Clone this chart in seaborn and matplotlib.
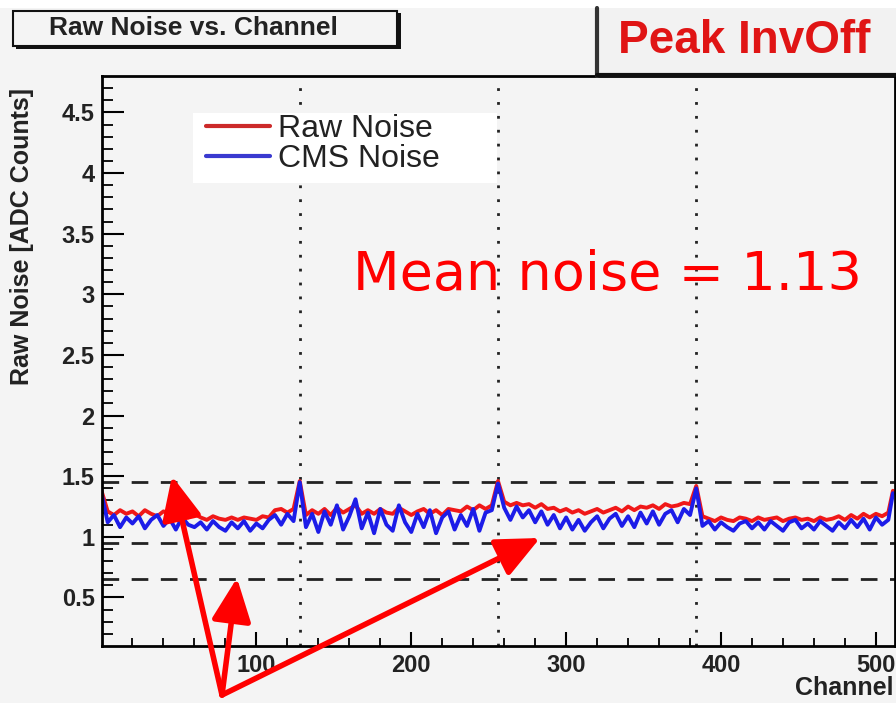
import numpy as np
import pandas as pd
import matplotlib
matplotlib.use("Agg")
import matplotlib.pyplot as plt
import seaborn as sns
from matplotlib.lines import Line2D
from matplotlib.patches import Rectangle

# ---------------- data ----------------
channels = list(range(0, 512, 4)) + [511]

raw_noise = [
    1.38, 1.21, 1.18, 1.22, 1.19, 1.21, 1.17, 1.22, 1.19, 1.17, 1.21, 1.19, 1.17, 1.20, 1.16, 1.19,
    1.16, 1.14, 1.17, 1.15, 1.14, 1.16, 1.14, 1.16, 1.15, 1.14, 1.17, 1.16, 1.22, 1.23, 1.20, 1.23,
    1.46, 1.18, 1.22, 1.19, 1.23, 1.18, 1.24, 1.20, 1.23, 1.26, 1.19, 1.22, 1.19, 1.23, 1.20, 1.19,
    1.24, 1.21, 1.18, 1.21, 1.23, 1.19, 1.22, 1.18, 1.23, 1.22, 1.21, 1.25, 1.22, 1.26, 1.23, 1.26,
    1.46, 1.29, 1.26, 1.28, 1.26, 1.27, 1.24, 1.27, 1.23, 1.24, 1.21, 1.23, 1.20, 1.22, 1.19, 1.21,
    1.23, 1.20, 1.22, 1.24, 1.21, 1.25, 1.22, 1.25, 1.24, 1.26, 1.23, 1.27, 1.25, 1.26, 1.28, 1.27,
    1.42, 1.17, 1.15, 1.13, 1.16, 1.14, 1.13, 1.16, 1.15, 1.13, 1.16, 1.14, 1.15, 1.16, 1.13, 1.15,
    1.16, 1.14, 1.15, 1.13, 1.16, 1.14, 1.15, 1.17, 1.14, 1.18, 1.15, 1.19, 1.16, 1.19, 1.17, 1.20,
    1.38,
]
cms_noise = [
    1.36, 1.12, 1.18, 1.08, 1.16, 1.11, 1.17, 1.07, 1.14, 1.18, 1.09, 1.15, 1.06, 1.16, 1.10, 1.08,
    1.12, 1.06, 1.13, 1.08, 1.05, 1.12, 1.07, 1.13, 1.05, 1.11, 1.07, 1.14, 1.18, 1.10, 1.19, 1.13,
    1.45, 1.08, 1.19, 1.04, 1.21, 1.10, 1.26, 1.06, 1.17, 1.31, 1.07, 1.20, 1.03, 1.23, 1.10, 1.05,
    1.26, 1.12, 1.04, 1.19, 1.08, 1.22, 1.03, 1.16, 1.21, 1.06, 1.18, 1.09, 1.23, 1.05, 1.20, 1.22,
    1.44, 1.24, 1.14, 1.25, 1.16, 1.22, 1.12, 1.21, 1.10, 1.18, 1.07, 1.16, 1.06, 1.14, 1.05, 1.12,
    1.17, 1.07, 1.15, 1.19, 1.09, 1.17, 1.08, 1.20, 1.11, 1.21, 1.10, 1.19, 1.22, 1.12, 1.23, 1.18,
    1.40, 1.09, 1.13, 1.06, 1.12, 1.08, 1.05, 1.11, 1.13, 1.07, 1.12, 1.06, 1.13, 1.09, 1.05, 1.12,
    1.14, 1.07, 1.11, 1.06, 1.13, 1.09, 1.05, 1.12, 1.07, 1.14, 1.08, 1.15, 1.06, 1.16, 1.10, 1.14,
    1.36,
]
series_names = ["Raw Noise", "CMS Noise"]
series_colors = ["#f01818", "#1c1ce8"]
apv_boundaries = [128, 256, 384]
cut_levels = [1.45, 0.95, 0.65]
y_ticks = [0.5, 1, 1.5, 2, 2.5, 3, 3.5, 4, 4.5]
y_tick_labels = ["0.5", "1", "1.5", "2", "2.5", "3", "3.5", "4", "4.5"]
x_ticks = [100, 200, 300, 400, 500]
title_text = "Raw Noise vs. Channel"
tag_text = "Peak InvOff"
mean_text = "Mean noise = 1.13"
x_label = "Channel"
y_label = "Raw Noise [ADC Counts]"

df = pd.DataFrame({
    "Channel": channels * 2,
    "Noise": raw_noise + cms_noise,
    "Series": [series_names[0]] * len(channels) + [series_names[1]] * len(channels),
})

# ---------------- figure ----------------
W, H = 896, 703
BG = "#f4f4f4"
sns.set_theme(style="ticks")
plt.rcParams["font.family"] = ["Liberation Sans", "DejaVu Sans"]

fig = plt.figure(figsize=(W / 100, H / 100), dpi=100, facecolor=BG)
ax = fig.add_axes([101.5 / W, 1 - 646 / H, 793 / W, 570 / H])
ax.set_facecolor(BG)

sns.lineplot(data=df, x="Channel", y="Noise", hue="Series", hue_order=series_names,
             palette=dict(zip(series_names, series_colors)), estimator=None,
             linewidth=2.8, legend=False, ax=ax)

for b in apv_boundaries:
    ax.axvline(b, color="#222222", lw=2.0, ls=(0, (1, 4)), zorder=1)
for c in cut_levels:
    ax.axhline(c, color="#222222", lw=2.0, ls=(0, (6, 4.5)), zorder=1)

ax.set_xlim(0, 512)
ax.set_ylim(0.1, 4.8)
ax.set_xticks(x_ticks)
ax.set_xticks(np.arange(20, 512, 20), minor=True)
ax.set_yticks(y_ticks)
ax.set_yticklabels(y_tick_labels)
ax.set_yticks(np.arange(0.2, 4.8, 0.1), minor=True)
ax.tick_params(axis="both", which="both", direction="in", color="black")
ax.tick_params(axis="y", which="major", length=16, width=1.5, labelsize=17, pad=5)
ax.tick_params(axis="y", which="minor", length=8, width=1.3)
ax.tick_params(axis="x", which="major", length=10, width=1.5, labelsize=17, pad=6)
ax.tick_params(axis="x", which="minor", length=6, width=1.3)
for lab in ax.get_xticklabels() + ax.get_yticklabels():
    lab.set_fontweight("bold")
    lab.set_color("#222222")
for s in ax.spines.values():
    s.set_linewidth(2.0)
    s.set_color("black")
ax.set_xlabel("")
ax.set_ylabel("")

fig.text(893 / W, 1 - 688 / H, x_label, ha="right", va="center", fontsize=18,
         fontweight="bold", color="#222222")
fig.text(22 / W, 1 - 236 / H, y_label, ha="center", va="center", rotation=90,
         fontsize=18, fontweight="bold", color="#222222")

# legend: white panel + frameless legend
ax.add_patch(Rectangle((193 / W, 1 - 183 / H), 304 / W, 70 / H, transform=fig.transFigure,
                       facecolor="white", edgecolor="none", zorder=3))
handles = [Line2D([], [], color=c, lw=3) for c in ["#cc2a2a", "#3a3ad0"]]
leg = ax.legend(handles, series_names, loc="upper left",
                bbox_to_anchor=(206 / W, 1 - 114 / H), bbox_transform=fig.transFigure,
                frameon=False, fontsize=23, handlelength=2.0, handletextpad=0.25,
                labelspacing=0.0, borderpad=0.0, borderaxespad=0)
leg.set_zorder(4)
for t in leg.get_texts():
    t.set_color("#222222")

# mean noise text
ax.text(353 / W, 1 - 290 / H, mean_text, transform=fig.transFigure, ha="left",
        va="baseline", fontsize=39, color="#ff0000", family="DejaVu Sans", zorder=5)

# top white strip
fig.patches.append(Rectangle((0, 1 - 8 / H), 1, 8 / H, transform=fig.transFigure,
                             facecolor="white", edgecolor="none", zorder=0))

# title box with shadow
fig.patches.append(Rectangle((16 / W, 1 - 49 / H), 385 / W, 36 / H, transform=fig.transFigure,
                             facecolor="#111111", edgecolor="none", zorder=2))
fig.patches.append(Rectangle((13 / W, 1 - 46 / H), 384 / W, 35 / H, transform=fig.transFigure,
                             facecolor=BG, edgecolor="#111111", lw=1.5, zorder=3))
fig.text(193 / W, 1 - 28 / H, title_text, ha="center", va="center", fontsize=19,
         fontweight="bold", color="#222222", zorder=4)

# tag box
fig.patches.append(Rectangle((597 / W, 1 - 76 / H), 300 / W, 68 / H, transform=fig.transFigure,
                             facecolor="#f2f2f2", edgecolor="none", zorder=2))
fig.lines.append(Line2D([597 / W, 597 / W], [1 - 76 / H, 1 - 8 / H], transform=fig.transFigure,
                        color="#333333", lw=3, zorder=3))
fig.lines.append(Line2D([597 / W, 1], [1 - 75 / H, 1 - 75 / H], transform=fig.transFigure,
                        color="#111111", lw=3, zorder=3))
fig.text(744 / W, 1 - 41 / H, tag_text, ha="center", va="center", fontsize=33,
         fontweight="bold", color="#e01515", zorder=4)

# arrows (annotation overlay)
base = (222, H - 695)
tips = [(172, H - 476), (237, H - 578), (540, H - 538)]
for tip in tips:
    ax.annotate("", xy=tip, xycoords="figure pixels", xytext=base, textcoords="figure pixels",
                arrowprops=dict(arrowstyle="-|>,head_length=1.2,head_width=0.55", color="#ff0000",
                                lw=4, mutation_scale=22, shrinkA=0, shrinkB=0),
                annotation_clip=False)

fig.savefig("out.png", dpi=100, facecolor=BG)
